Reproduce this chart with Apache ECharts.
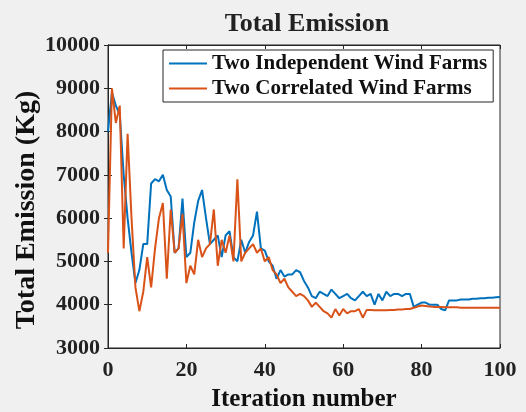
<!DOCTYPE html>
<html>
<head>
<meta charset="utf-8">
<script src="https://cdn.jsdelivr.net/npm/echarts@6/dist/echarts.min.js"></script>
<style>
  html, body { margin: 0; padding: 0; background: #f0f0f0; }
  #chart { width: 526px; height: 412px; }
</style>
</head>
<body>
<div id="chart"></div>
<script>
// Iteration index 0..100
const iterations = Array.from({ length: 101 }, (_, i) => i);

// Total emission per iteration (Kg)
const independentFarms = [
  8000, 8900, 8600, 8400, 7000, 6000, 5200, 4500, 4800, 5400,
  5400, 6800, 6900, 6850, 7000, 6650, 6500, 5200, 5300, 6450,
  5100, 5200, 5900, 6400, 6650, 6000, 5400, 5500, 5600, 5100,
  5600, 5700, 5100, 5000, 5500, 5200, 5450, 5600, 6150, 5300,
  5250, 5000, 4900, 4600, 4800, 4650, 4700, 4700, 4800, 4750,
  4550, 4400, 4200, 4150, 4300, 4250, 4200, 4350, 4250, 4150,
  4200, 4250, 4150, 4100, 4200, 4300, 4200, 4250, 4000, 4250,
  4100, 4300, 4200, 4250, 4250, 4200, 4250, 4250, 3950, 4000,
  4050, 4050, 4000, 4000, 4000, 3900, 3870, 4100, 4100, 4100,
  4120, 4120, 4120, 4140, 4140, 4150, 4150, 4160, 4160, 4170,
  4180
];
const correlatedFarms = [
  5200, 9000, 8200, 8600, 5300, 7950, 6000, 4400, 3850, 4300,
  5100, 4400, 5300, 6000, 6350, 4600, 6200, 5200, 5300, 6100,
  4500, 4900, 4700, 5500, 5100, 5300, 5400, 6200, 4900, 5500,
  5200, 5600, 5000, 6900, 5000, 5200, 5300, 5400, 5200, 5300,
  5000, 5100, 4800, 4700, 4500, 4600, 4400, 4300, 4200, 4250,
  4200, 4100, 3950, 4050, 3950, 3850, 3800, 3700, 3900, 3750,
  3900, 3800, 3850, 3850, 3900, 3700, 3880, 3880, 3870, 3870,
  3870, 3870, 3880, 3880, 3890, 3890, 3900, 3900, 3930, 3960,
  3980, 3970, 3960, 3950, 3950, 3950, 3940, 3940, 3940, 3940,
  3930, 3930, 3930, 3930, 3930, 3930, 3930, 3930, 3930, 3930,
  3930
];

const seriesNames = ['Two Independent Wind Farms', 'Two Correlated Wind Farms'];
const xTicks = [0, 20, 40, 60, 80, 100];
const yTicks = [3000, 4000, 5000, 6000, 7000, 8000, 9000, 10000];

const FONT = '"Liberation Serif", "Times New Roman", serif';
const AXIS_COLOR = '#262626';

const chart = echarts.init(document.getElementById('chart'));

const frameAxis = {
  axisLine: { show: true, lineStyle: { color: AXIS_COLOR, width: 1 } },
  axisTick: { show: true, inside: true, length: 4, lineStyle: { color: AXIS_COLOR } },
  splitLine: { show: false }
};

chart.setOption({
  backgroundColor: '#f0f0f0',
  animation: false,
  title: {
    text: 'Total Emission',
    left: 302,
    textAlign: 'center',
    top: 6,
    textStyle: { fontFamily: FONT, fontWeight: 'bold', fontSize: 26, color: '#222' }
  },
  // vertical axis title, drawn as rotated text beside the tick labels
  graphic: [{
    type: 'text',
    x: 27,
    y: 210,
    rotation: Math.PI / 2,
    style: {
      text: 'Total Emission (Kg)',
      fontFamily: FONT, fontWeight: 'bold', fontSize: 28, fill: '#111',
      align: 'center', verticalAlign: 'middle'
    }
  }],
  legend: {
    orient: 'vertical',
    left: 163,
    top: 50,
    backgroundColor: '#ffffff',
    borderColor: AXIS_COLOR,
    borderWidth: 1,
    borderRadius: 0,
    padding: [3, 6, 3, 6],
    itemGap: 4,
    itemWidth: 38,
    itemHeight: 2,
    icon: 'rect',
    data: seriesNames,
    textStyle: { fontFamily: FONT, fontWeight: 'bold', fontSize: 21, color: '#111' }
  },
  grid: {
    left: 108, right: 26, top: 45, bottom: 64,
    outerBoundsMode: 'none',
    containLabel: false,
    show: true, backgroundColor: '#ffffff', borderColor: AXIS_COLOR, borderWidth: 1
  },
  xAxis: [
    Object.assign({
      type: 'value', min: 0, max: 100, interval: 20,
      name: 'Iteration number', nameLocation: 'middle', nameGap: 39,
      nameTextStyle: { fontFamily: FONT, fontWeight: 'bold', fontSize: 25, color: '#111' },
      axisLabel: {
        fontFamily: FONT, fontWeight: 'bold', fontSize: 22, color: '#222', margin: 11,
        formatter: v => (xTicks.includes(v) ? String(v) : '')
      }
    }, frameAxis),
    Object.assign({
      type: 'value', min: 0, max: 100, interval: 20, position: 'top',
      axisLabel: { show: false }
    }, frameAxis)
  ],
  yAxis: [
    Object.assign({
      type: 'value', min: 3000, max: 10000, interval: 1000,
      axisLabel: {
        fontFamily: FONT, fontWeight: 'bold', fontSize: 22, color: '#222', margin: 8,
        formatter: v => (yTicks.includes(v) ? String(v) : '')
      }
    }, frameAxis),
    Object.assign({
      type: 'value', min: 3000, max: 10000, interval: 1000, position: 'right',
      axisLabel: { show: false }
    }, frameAxis)
  ],
  series: [
    {
      name: seriesNames[0], type: 'line', showSymbol: false, symbol: 'none',
      data: iterations.map((x, i) => [x, independentFarms[i]]),
      lineStyle: { color: '#0072BD', width: 2 }, itemStyle: { color: '#0072BD' },
      z: 2
    },
    {
      name: seriesNames[1], type: 'line', showSymbol: false, symbol: 'none',
      data: iterations.map((x, i) => [x, correlatedFarms[i]]),
      lineStyle: { color: '#D95319', width: 2 }, itemStyle: { color: '#D95319' },
      z: 3
    }
  ]
});
</script>
</body>
</html>
